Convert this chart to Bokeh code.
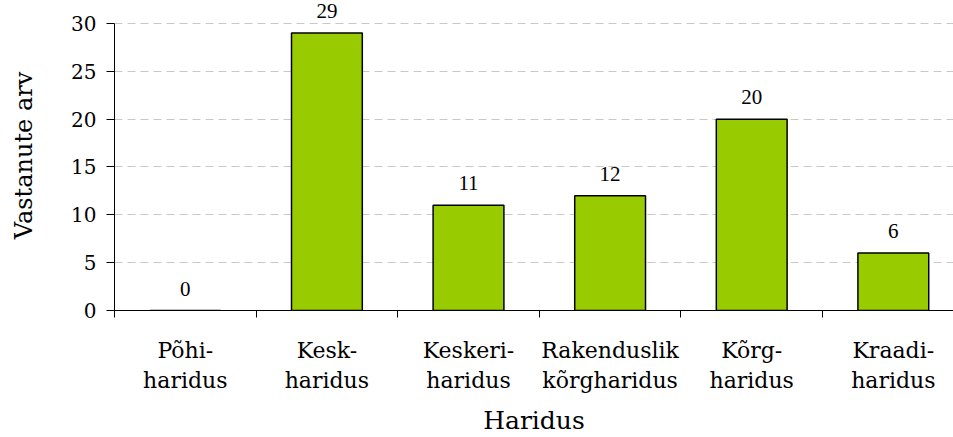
from bokeh.plotting import figure
from bokeh.models import ColumnDataSource, Range1d, FixedTicker, LabelSet
from bokeh.embed import file_html
from bokeh.resources import INLINE

categories = ["Põhi-\nharidus", "Kesk-\nharidus", "Keskeri-\nharidus",
              "Rakenduslik\nkõrgharidus", "Kõrg-\nharidus", "Kraadi-\nharidus"]
values = [0, 29, 11, 12, 20, 6]
y_ticks = [0, 5, 10, 15, 20, 25, 30]
y_max = 30

FONT = "DejaVu Serif"
centers = [i + 0.5 for i in range(len(categories))]
bounds = list(range(len(categories) + 1))

src = ColumnDataSource(dict(x=centers, top=values, lab=[str(v) for v in values]))

# frame spans the whole top; axis is bounded at 30 so labels above it stay visible
p = figure(width=953, height=437, output_backend="svg", toolbar_location=None,
           x_range=Range1d(0, 5.925), y_range=Range1d(0, 32.4),
           min_border_left=114, min_border_top=0, min_border_bottom=127,
           min_border_right=0)
p.outline_line_color = None
p.background_fill_color = "white"
p.border_fill_color = "white"

p.vbar(x="x", top="top", width=0.5, source=src, fill_color="#99CC00",
       line_color="black", line_width=1.5)

labels = LabelSet(x="x", y="top", text="lab", source=src, y_offset=15,
                  text_align="center", text_baseline="alphabetic",
                  text_font=FONT, text_font_size="21px", text_color="black")
p.add_layout(labels)

# x axis
xa = p.xaxis[0]
xa.ticker = FixedTicker(ticks=centers, minor_ticks=bounds)
xa.major_label_overrides = {c: lab for c, lab in zip(centers, categories)}
xa.major_tick_out = 0
xa.major_tick_in = 0
xa.minor_tick_out = 7
xa.minor_tick_in = 0
xa.minor_tick_line_color = "black"
xa.axis_line_color = "black"
xa.major_label_text_font = FONT
xa.major_label_text_font_size = "22px"
xa.major_label_standoff = 20
xa.major_label_text_color = "black"
xa.axis_label = "Haridus"
xa.axis_label_text_font = FONT
xa.axis_label_text_font_size = "25px"
xa.axis_label_text_font_style = "normal"
xa.axis_label_text_color = "black"
xa.axis_label_standoff = 10

# y axis
ya = p.yaxis[0]
ya.ticker = FixedTicker(ticks=y_ticks)
ya.bounds = (0, y_max)
ya.major_tick_out = 8
ya.major_tick_in = 0
ya.minor_tick_line_color = None
ya.axis_line_color = "black"
ya.major_tick_line_color = "black"
ya.major_label_text_font = FONT
ya.major_label_text_font_size = "20px"
ya.major_label_standoff = 10
ya.major_label_text_color = "black"
ya.axis_label = "Vastanute arv"
ya.axis_label_text_font = FONT
ya.axis_label_text_font_size = "24px"
ya.axis_label_text_font_style = "normal"
ya.axis_label_text_color = "black"
ya.axis_label_standoff = 30

p.xgrid.grid_line_color = None
p.ygrid.grid_line_color = "#C8C8C8"
p.ygrid.grid_line_dash = "8 5"
p.ygrid.grid_line_width = 1

open("out.html", "w").write(file_html(p, INLINE))
